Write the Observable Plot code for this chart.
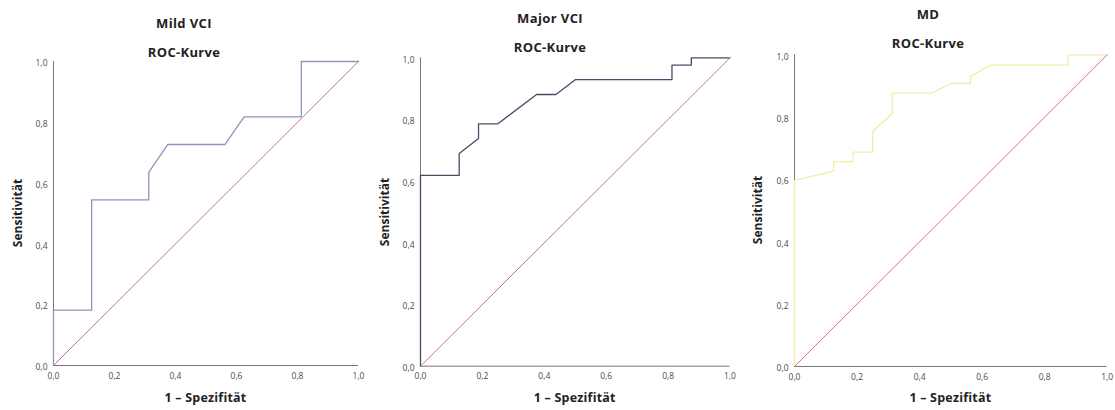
<!DOCTYPE html>
<html><head><meta charset="utf-8">
<script src="https://cdn.jsdelivr.net/npm/d3@7"></script>
<script src="https://cdn.jsdelivr.net/npm/@observablehq/plot@0.6"></script>
<style>
body{margin:0;background:#fff;}
#root{position:relative;width:1115px;height:410px;overflow:hidden;font-family:"Open Sans",sans-serif;}
.panel{position:absolute;top:0;}
.lbl{position:absolute;transform:translate(-50%,-50%);font-weight:bold;color:#222;white-space:nowrap;line-height:1;}
.rot{transform:translate(-50%,-50%) rotate(-90deg);}
</style></head><body><div id="root"></div>
<script>
// ---- data ----
const panelTitles = ["Mild VCI", "Major VCI", "MD"];
const subTitle = "ROC-Kurve";
const xTitle = "1 – Spezifität";
const yTitle = "Sensitivität";
const tickValues = [0, 0.2, 0.4, 0.6, 0.8, 1.0];

const mildFpr  = [0, 0, 0.125, 0.125, 0.3125, 0.3125, 0.375, 0.5625, 0.625, 0.8125, 0.8125, 1];
const mildTpr  = [0, 0.182, 0.182, 0.545, 0.545, 0.636, 0.727, 0.727, 0.818, 0.818, 1, 1];

const majorFpr = [0, 0, 0.125, 0.125, 0.1875, 0.1875, 0.25, 0.375, 0.4375, 0.5, 0.8125, 0.8125, 0.875, 0.875, 1];
const majorTpr = [0, 0.619, 0.619, 0.690, 0.738, 0.786, 0.786, 0.881, 0.881, 0.929, 0.929, 0.976, 0.976, 1, 1];

const mdFpr    = [0, 0, 0.125, 0.125, 0.1875, 0.1875, 0.25, 0.25, 0.3125, 0.3125, 0.4375, 0.5, 0.5625, 0.5625, 0.625, 0.875, 0.875, 1];
const mdTpr    = [0, 0.597, 0.627, 0.657, 0.657, 0.688, 0.688, 0.755, 0.812, 0.877, 0.877, 0.908, 0.908, 0.93, 0.967, 0.967, 1, 1];

const refFpr = [0, 1];
const refTpr = [0, 1];

// ---- layout / style ----
const panels = [
  {fpr: mildFpr,  tpr: mildTpr,  color: "#8d95ba", left: 0,   ml: 53,   mr: 12,  mt: 61,   mb: 45,
   titleX: 184, titleY: 23, subY: 52, yTitleX: 18},
  {fpr: majorFpr, tpr: majorTpr, color: "#474d66", left: 370, ml: 50,   mr: 10.5, mt: 57.3, mb: 44.3,
   titleX: 550, titleY: 18, subY: 47, yTitleX: 385},
  {fpr: mdFpr,    tpr: mdTpr,    color: "#f2eca6", left: 745, ml: 49,   mr: 8.3, mt: 54.3, mb: 44,
   titleX: 928, titleY: 14, subY: 43, yTitleX: 758}
];
const W = 370, H = 410;
const fmt = d => d.toFixed(1).replace(".", ",");
const root = document.getElementById("root");

panels.forEach((p, i) => {
  const rows = p.fpr.map((x, k) => ({x, y: p.tpr[k]}));
  const ref = refFpr.map((x, k) => ({x, y: refTpr[k]}));
  const svg = Plot.plot({
    width: W, height: H,
    marginLeft: p.ml, marginRight: p.mr, marginTop: p.mt, marginBottom: p.mb,
    style: {fontFamily: "'Open Sans', sans-serif", background: "transparent", overflow: "visible"},
    x: {domain: [0, 1]},
    y: {domain: [0, 1]},
    marks: [
      Plot.axisX({ticks: tickValues, tickSize: 0, tickPadding: 7, tickFormat: fmt, label: null, fontSize: 8.5, fill: "#4a4a4a"}),
      Plot.axisY({ticks: tickValues, tickSize: 0, tickPadding: 6, tickFormat: fmt, label: null, fontSize: 8.5, fill: "#4a4a4a", dy: 2}),
      Plot.ruleY([0], {stroke: "#777", strokeWidth: 1}),
      Plot.ruleX([0], {stroke: "#777", strokeWidth: 1}),
      Plot.line(rows, {x: "x", y: "y", stroke: p.color, strokeWidth: 1.3}),
      Plot.line(ref, {x: "x", y: "y", stroke: "#d4728a", strokeWidth: 1})
    ]
  });
  const holder = document.createElement("div");
  holder.className = "panel";
  holder.style.left = p.left + "px";
  holder.appendChild(svg);
  root.appendChild(holder);

  const plotLeft = p.left + p.ml, plotRight = p.left + W - p.mr;
  const plotTop = p.mt, plotBottom = H - p.mb;
  const add = (text, x, y, size, cls, ls) => {
    const d = document.createElement("div");
    d.className = "lbl" + (cls ? " " + cls : "");
    d.textContent = text;
    d.style.left = x + "px"; d.style.top = y + "px"; d.style.fontSize = size + "px";
    if (ls) d.style.letterSpacing = ls + "px";
    root.appendChild(d);
  };
  add(panelTitles[i], p.titleX, p.titleY, 13, null, 0.4);
  add(subTitle, p.titleX, p.subY, 13, null, 0.3);
  add(xTitle, (plotLeft + plotRight) / 2, 398, 12.5, null, 0.2);
  add(yTitle, p.yTitleX, (plotTop + plotBottom) / 2, 12, "rot");
});
</script></body></html>
